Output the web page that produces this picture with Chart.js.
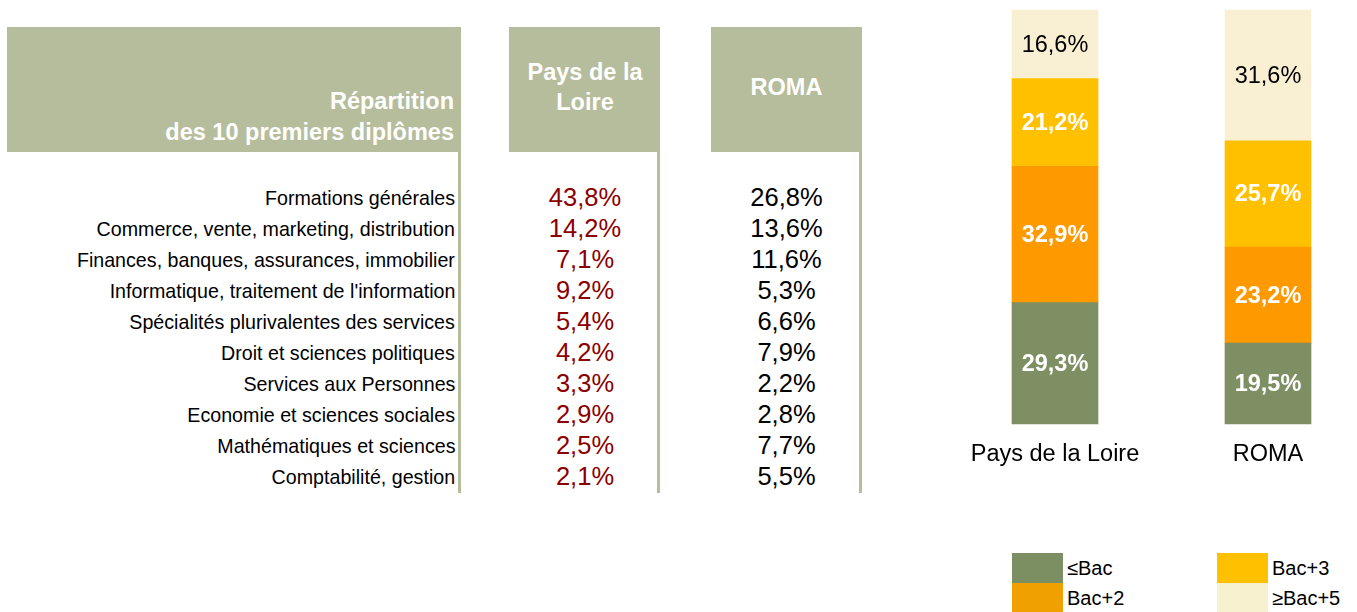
<!DOCTYPE html>
<html><head><meta charset="utf-8">
<script src="https://cdn.jsdelivr.net/npm/chart.js@4/dist/chart.umd.min.js"></script>
<style>
html,body{margin:0;padding:0;background:#fff;width:1357px;height:612px;overflow:hidden;font-family:"Liberation Sans",Arial,sans-serif;}
.hdr{position:absolute;background:#b6bd9c;}
.vline{position:absolute;background:#b6bd9c;width:3px;top:152px;height:341px;}
.htxt{position:absolute;color:#fff;font-weight:bold;font-size:23.5px;line-height:31px;white-space:nowrap;}
.lbl{position:absolute;left:0;width:455px;text-align:right;white-space:nowrap;font-size:21px;color:#000;}
.lbl span{display:inline-block;transform-origin:100% 50%;}
.val{position:absolute;text-align:center;white-space:nowrap;font-size:25.5px;}
.lgbox{position:absolute;width:51px;height:30px;}
.lgtxt{position:absolute;font-size:20px;line-height:30px;color:#000;white-space:nowrap;}
#wrap{position:absolute;left:940px;top:0;width:417px;height:486px;}
</style>
</head><body>
<div class="hdr" style="left:7px;top:27px;width:454px;height:125px;"></div>
<div class="hdr" style="left:509px;top:27px;width:151px;height:125px;"></div>
<div class="hdr" style="left:711px;top:27px;width:151px;height:125px;"></div>
<div class="vline" style="left:458px;"></div>
<div class="vline" style="left:657px;"></div>
<div class="vline" style="left:859px;"></div>
<div class="htxt" style="left:0px;width:454px;top:86px;text-align:right;">Répartition<br>des 10 premiers diplômes</div>
<div class="htxt" style="left:509px;width:152px;top:57px;text-align:center;line-height:30px;">Pays de la<br>Loire</div>
<div class="htxt" style="left:711px;width:151px;top:72px;text-align:center;">ROMA</div>
<div id="rows"></div>
<div id="wrap"><canvas id="c" width="417" height="486"></canvas></div>
<div id="legend"></div>
<script>
// ---- Table data ----
const diplomes = [
  "Formations générales",
  "Commerce, vente, marketing, distribution",
  "Finances, banques, assurances, immobilier",
  "Informatique, traitement de l'information",
  "Spécialités plurivalentes des services",
  "Droit et sciences politiques",
  "Services aux Personnes",
  "Economie et sciences sociales",
  "Mathématiques et sciences",
  "Comptabilité, gestion"
];
const pdlShares  = [43.8, 14.2, 7.1, 9.2, 5.4, 4.2, 3.3, 2.9, 2.5, 2.1];
const romaShares = [26.8, 13.6, 11.6, 5.3, 6.6, 7.9, 2.2, 2.8, 7.7, 5.5];

// ---- Stacked bar data ----
const regions = ["Pays de la Loire", "ROMA"];
const levels = ["≤Bac", "Bac+2", "Bac+3", "≥Bac+5"];
const bacOrLess = [29.3, 19.5];
const bac2 = [32.9, 23.2];
const bac3 = [21.2, 25.7];
const bac5plus = [16.6, 31.6];

const barColors = ["#7e8f63", "#ff9900", "#ffc000", "#f9efd3"];
const legendColors = ["#7b8f62", "#f0a000", "#ffc000", "#f8f1cf"];

const fmt = v => v.toFixed(1).replace('.', ',') + '%';

// ---- Build table rows ----
const rowsEl = document.getElementById('rows');
const rowTop = 181.5, rowH = 31.1;
const labelEls = [];
diplomes.forEach((d, i) => {
  const top = rowTop + i * rowH;
  const l = document.createElement('div');
  l.className = 'lbl';
  l.style.top = top + 'px';
  l.style.lineHeight = rowH + 'px';
  const sp = document.createElement('span');
  sp.textContent = d;
  l.appendChild(sp);
  labelEls.push(sp);
  rowsEl.appendChild(l);
  const v1 = document.createElement('div');
  v1.className = 'val';
  v1.style.cssText += `left:509px;width:152px;top:${top}px;line-height:${rowH}px;color:#8b0000;`;
  v1.textContent = fmt(pdlShares[i]);
  rowsEl.appendChild(v1);
  const v2 = document.createElement('div');
  v2.className = 'val';
  v2.style.cssText += `left:711px;width:151px;top:${top}px;line-height:${rowH}px;color:#000;`;
  v2.textContent = fmt(romaShares[i]);
  rowsEl.appendChild(v2);
});
// condense labels horizontally like the narrow font of the reference
let maxW = 0;
labelEls.forEach(s => { maxW = Math.max(maxW, s.getBoundingClientRect().width); });
if (maxW > 0) {
  const k = 378 / maxW;
  labelEls.forEach(s => s.style.transform = `scaleX(${k})`);
}

// ---- Legend ----
const legendEl = document.getElementById('legend');
const lgPos = [[1012, 553], [1012, 583], [1217, 553], [1217, 583]];
levels.forEach((name, i) => {
  const b = document.createElement('div');
  b.className = 'lgbox';
  b.style.left = lgPos[i][0] + 'px';
  b.style.top = lgPos[i][1] + 'px';
  b.style.background = legendColors[i];
  legendEl.appendChild(b);
  const t = document.createElement('div');
  t.className = 'lgtxt';
  t.style.left = (lgPos[i][0] + 55) + 'px';
  t.style.top = lgPos[i][1] + 'px';
  t.textContent = name;
  legendEl.appendChild(t);
});

// ---- Chart ----
const segLabels = {
  id: 'segLabels',
  afterDatasetsDraw(chart) {
    const ctx = chart.ctx;
    ctx.save();
    ctx.textAlign = 'center';
    ctx.textBaseline = 'middle';
    chart.data.datasets.forEach((ds, di) => {
      const meta = chart.getDatasetMeta(di);
      meta.data.forEach((el, i) => {
        const light = di === 3;
        ctx.font = (light ? '' : 'bold ') + '23.5px "Liberation Sans", Arial, sans-serif';
        ctx.fillStyle = light ? '#000' : '#fff';
        ctx.fillText(fmt(ds.data[i]), el.x, (el.y + el.base) / 2 + 1);
      });
    });
    ctx.restore();
  }
};

const seriesData = [bacOrLess, bac2, bac3, bac5plus];
new Chart(document.getElementById('c'), {
  type: 'bar',
  data: {
    labels: regions,
    datasets: levels.map((name, i) => ({
      label: name,
      data: seriesData[i],
      backgroundColor: barColors[i],
      borderWidth: 0,
      barThickness: 86,
      clip: false
    }))
  },
  options: {
    responsive: false,
    animation: false,
    layout: { padding: { left: 115, right: 89, top: 10, bottom: 0 } },
    plugins: { legend: { display: false }, tooltip: { enabled: false } },
    scales: {
      x: {
        stacked: true,
        offset: false,
        grid: { display: false, drawTicks: false },
        border: { display: false },
        ticks: { color: '#000', padding: 17, font: { family: '"Liberation Sans", Arial, sans-serif', size: 23.5 } }
      },
      y: { stacked: true, min: 0, max: 100, display: false }
    }
  },
  plugins: [segLabels]
});
</script>
</body></html>
